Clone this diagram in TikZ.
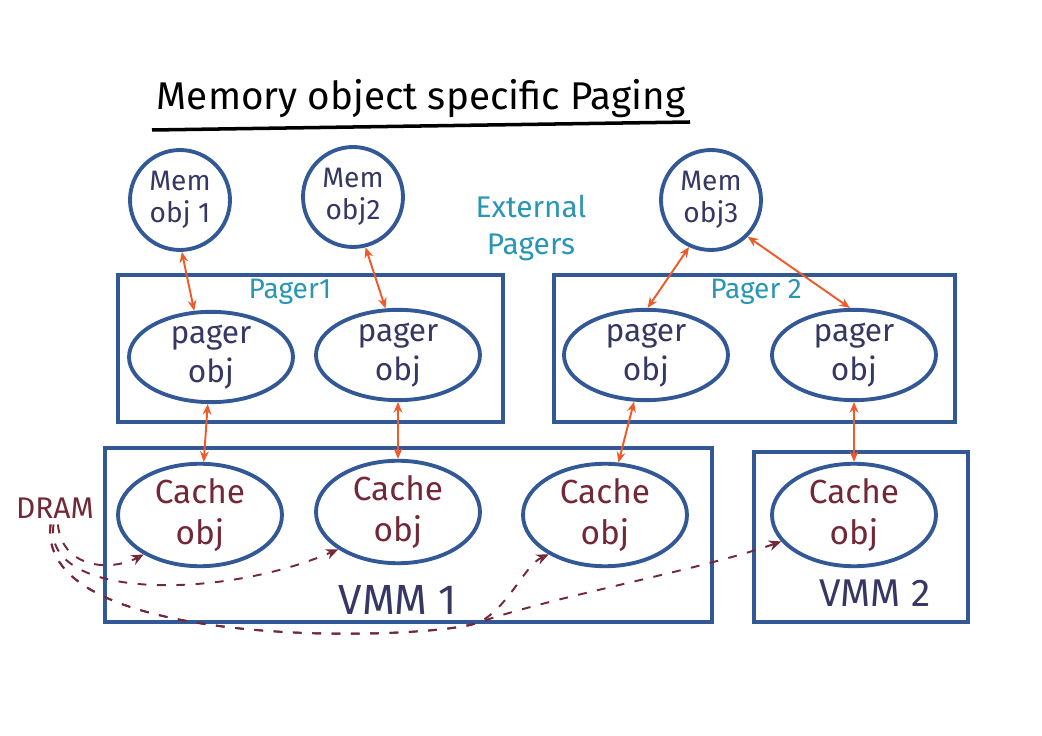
\documentclass[tikz,border=0pt]{standalone}
\usepackage{fontspec}
\setmainfont{Fira Sans}
\usetikzlibrary{arrows.meta,shapes.geometric}

\definecolor{boxblue}{RGB}{50,88,150}
\definecolor{ink}{RGB}{55,55,100}
\definecolor{maroon}{RGB}{115,40,55}
\definecolor{arrowred}{RGB}{240,90,40}
\definecolor{teal}{RGB}{40,150,180}

\begin{document}
\begin{tikzpicture}[x=0.02cm, y=-0.02cm,
    memobj/.style={circle, draw=boxblue, line width=2.2pt, minimum size=2cm, inner sep=0pt,
        text=ink, align=center, font=\fontsize{16}{18}\selectfont},
    pagerobj/.style={ellipse, draw=boxblue, line width=2.2pt, minimum width=3.28cm, minimum height=1.7cm,
        inner sep=0pt, text=ink, align=center, font=\fontsize{18}{22}\selectfont},
    cacheobj/.style={ellipse, draw=boxblue, line width=2.2pt, minimum width=3.28cm, minimum height=1.8cm,
        inner sep=0pt, text=maroon, align=center, font=\fontsize{19}{23}\selectfont},
    group/.style={draw=boxblue, line width=2.2pt},
    link/.style={{Stealth[length=6pt,width=5pt]}-{Stealth[length=6pt,width=5pt]}, draw=arrowred, line width=1.1pt},
    dramlink/.style={-{Stealth[length=7pt,width=6pt,open]}, draw=maroon, line width=1.1pt, dash pattern=on 5pt off 6pt}
]

    \useasboundingbox (0,0) rectangle (1042,736);

    % Title
    \node[font=\fontsize{22}{26}\selectfont] (title) at (421,99) {Memory object specific Paging};
    \draw[line width=2pt] (152,130) -- (690,122);

    % Memory objects
    \node[memobj] (mem1) at (180,200) {Mem\\obj 1};
    \node[memobj] (mem2) at (353,197) {Mem\\obj2};
    \node[memobj] (mem3) at (711,200) {Mem\\obj3};
    \node[teal, align=center, font=\fontsize{17}{21}\selectfont] (ext) at (531,228) {External\\Pagers};

    % Pagers
    \draw[group] (118,275) rectangle (503,422);
    \node[teal, font=\fontsize{16}{18}\selectfont] (pager1) at (290,292) {Pager1};
    \node[pagerobj] (pobj1) at (211,357) {pager\\obj};
    \node[pagerobj] (pobj2) at (398,355) {pager\\obj};

    \draw[group] (554,275) rectangle (955,422);
    \node[teal, font=\fontsize{16}{18}\selectfont] (pager2) at (756,292) {Pager 2};
    \node[pagerobj] (pobj3) at (646,355) {pager\\obj};
    \node[pagerobj] (pobj4) at (854,355) {pager\\obj};

    % VMMs
    \draw[group] (105,448) rectangle (712,622);
    \node[ink, font=\fontsize{24}{28}\selectfont] (vmm1) at (398,600) {VMM 1};
    \node[cacheobj] (cache1) at (200,515) {Cache\\obj};
    \node[cacheobj] (cache2) at (398,512) {Cache\\obj};
    \node[cacheobj] (cache3) at (605,515) {Cache\\obj};

    \draw[group] (754,452) rectangle (968,622);
    \node[ink, font=\fontsize{22}{26}\selectfont] (vmm2) at (875,593) {VMM 2};
    \node[cacheobj] (cache4) at (854,515) {Cache\\obj};

    % Pager links
    \draw[link] (mem1.-88) -- (pobj1.110);
    \draw[link] (mem2.-76) -- (pobj2.105);
    \draw[link] (mem3.245) -- (pobj3.88);
    \draw[link] (mem3.-45) -- (pobj4.95);
    \draw[link] (pobj1) -- (cache1);
    \draw[link] (pobj2) -- (cache2);
    \draw[link] (pobj3) -- (cache3);
    \draw[link] (pobj4) -- (cache4);

    % DRAM
    \node[maroon, font=\fontsize{17}{19}\selectfont] (dram) at (55,508) {DRAM};
    \draw[dramlink] (dram.-80) .. controls (62,568) and (110,572) .. (cache1.215);
    \draw[dramlink] (dram.-95) .. controls (42,600) and (220,600) .. (cache2.212);
    \draw[dramlink] (dram.-105) .. controls (35,655) and (440,640) .. (480,622)
        .. controls (510,605) and (525,565) .. (cache3.215);
    \draw[dramlink] (dram.-105) .. controls (35,655) and (440,640) .. (480,622)
        .. controls (560,595) and (700,570) .. (cache4.200);

\end{tikzpicture}
\end{document}
